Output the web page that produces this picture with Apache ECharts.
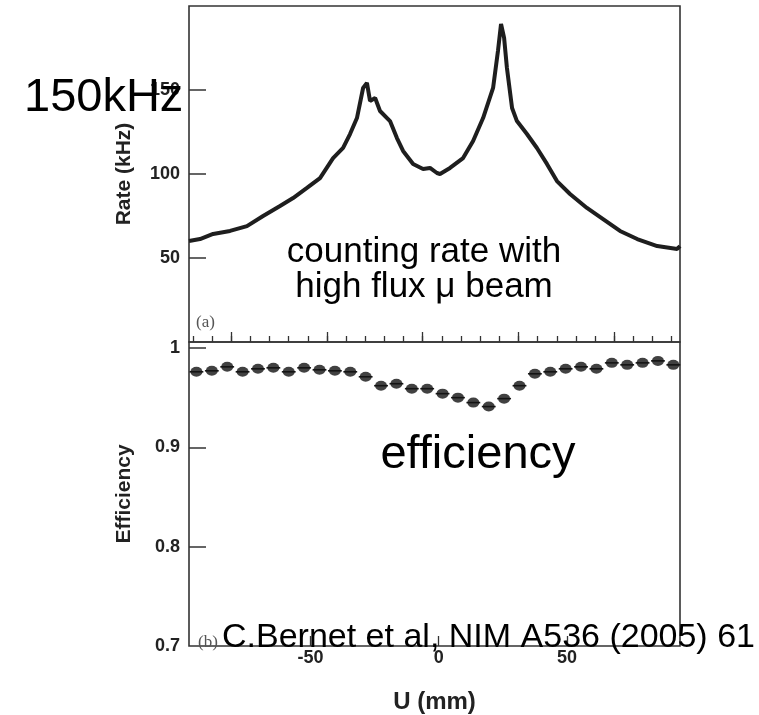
<!DOCTYPE html>
<html>
<head>
<meta charset="utf-8">
<script src="https://cdn.jsdelivr.net/npm/echarts@6/dist/echarts.min.js"></script>
<style>
html,body{margin:0;padding:0;background:#fff;}
#chart{width:759px;height:715px;}
</style>
</head>
<body>
<div id="chart"></div>
<script>
// ---- data (U in mm) ----
var rateU = [-97.4,-93.1,-88.0,-81.4,-74.8,-68.5,-61.9,-56.8,-51.4,-46.3,-41.2,-37.3,-34.6,-31.9,-29.5,-28.0,-26.8,-24.8,-22.9,-19.0,-16.3,-13.9,-10.0,-6.1,-3.4,-0.7,0.5,4.4,9.5,13.4,17.3,21.2,23.1,24.3,25.5,26.6,28.6,30.5,34.4,38.3,42.2,46.1,51.2,57.8,64.1,70.7,77.4,85.2,93.0,94.1];
var rateKHz = [60.1,61.3,64.3,66.1,69.0,75.0,81.0,85.7,91.7,97.6,109.5,115.5,123.8,133.3,151.2,154.2,143.5,145.2,137.5,131.5,121.4,113.7,106.0,103.0,103.6,100.6,100.0,103.6,109.5,119.6,133.3,151.2,173.2,189.3,181.0,163.1,139.3,131.5,123.8,115.5,106.0,95.8,88.1,79.8,73.2,66.1,61.3,57.1,55.4,57.1];

var effU = [-94.5,-88.5,-82.5,-76.5,-70.5,-64.5,-58.5,-52.5,-46.5,-40.5,-34.5,-28.5,-22.5,-16.5,-10.5,-4.5,1.5,7.5,13.5,19.5,25.5,31.5,37.5,43.5,49.5,55.5,61.5,67.5,73.5,79.5,85.5,91.5];
var effVal = [0.976,0.977,0.981,0.976,0.979,0.980,0.976,0.980,0.978,0.977,0.976,0.971,0.962,0.964,0.959,0.959,0.954,0.950,0.945,0.941,0.949,0.962,0.974,0.976,0.979,0.981,0.979,0.985,0.983,0.985,0.987,0.983];
var effHalfWidth = 2.7;

// ---- axes / ticks ----
var uMin = -97.4, uMax = 94.1;
var topMinorTicks = [-95.9,-88.43,-80.96,-73.49,-66.02,-58.55,-51.08,-43.61,-36.14,-28.67,-21.2,-13.73,-6.26,1.21,8.68,16.15,23.62,31.09,38.56,46.03,53.5,60.97,68.44,75.91,83.38,90.85];
var topMajorTicks = [-80.96,-43.61,-6.26,31.09,68.44];
var uTicks = [-50,0,50];
var rateTicks = [50,100,150];
var effTicks = [0.8,0.9,1];
var effLabels = [0.7,0.8,0.9,1];

var labelFont = {fontFamily:'Liberation Sans', fontWeight:'bold', fontSize:18, color:'#222'};
var nameFont = {fontFamily:'Liberation Sans', fontWeight:'bold', fontSize:21, color:'#222'};

var chart = echarts.init(document.getElementById('chart'), null, {renderer:'canvas'});
chart.setOption({
  animation:false,
  backgroundColor:'#fff',
  grid:[
    {left:189, top:6, width:491, height:336, show:true, borderColor:'#333', borderWidth:1.6, backgroundColor:'transparent'},
    {left:189, top:342, width:491, height:315, show:true, borderColor:'#333', borderWidth:1.6, backgroundColor:'transparent'}
  ],
  xAxis:[
    {gridIndex:0, type:'value', position:'bottom', min:uMin, max:uMax, axisLine:{show:false, onZero:false}, splitLine:{show:false}, axisLabel:{show:false},
     axisTick:{show:true, inside:true, length:6, customValues:topMinorTicks, lineStyle:{color:'#333', width:1.3}}},
    {gridIndex:0, type:'value', position:'bottom', min:uMin, max:uMax, axisLine:{show:false, onZero:false}, splitLine:{show:false}, axisLabel:{show:false},
     axisTick:{show:true, inside:true, length:10, customValues:topMajorTicks, lineStyle:{color:'#333', width:1.3}}},
    {gridIndex:1, type:'value', position:'bottom', min:uMin, max:uMax, axisLine:{show:false, onZero:false}, splitLine:{show:false},
     axisTick:{show:true, inside:true, length:10, customValues:uTicks, lineStyle:{color:'#333', width:1.3}},
     axisLabel:Object.assign({show:true, customValues:uTicks, margin:3}, labelFont),
     name:'U (mm)', nameLocation:'middle', nameGap:44,
     nameTextStyle:Object.assign({}, nameFont, {fontSize:24})}
  ],
  yAxis:[
    {gridIndex:0, type:'value', position:'left', min:0, max:200, axisLine:{show:false, onZero:false}, splitLine:{show:false},
     axisTick:{show:true, inside:true, length:17, customValues:rateTicks, lineStyle:{color:'#333', width:1.5}},
     axisLabel:Object.assign({show:true, customValues:rateTicks, margin:9}, labelFont),
     name:'Rate (kHz)', nameLocation:'middle', nameRotate:90, nameGap:54,
     nameTextStyle:nameFont},
    {gridIndex:1, type:'value', position:'left', min:0.7, max:1.006, axisLine:{show:false, onZero:false}, splitLine:{show:false},
     axisTick:{show:true, inside:true, length:17, customValues:effTicks, lineStyle:{color:'#333', width:1.5}},
     axisLabel:Object.assign({show:true, customValues:effLabels, margin:9, formatter:function(v){return String(+v.toFixed(2));}}, labelFont),
     name:'Efficiency', nameLocation:'middle', nameRotate:90, nameGap:54,
     nameTextStyle:nameFont}
  ],
  series:[
    {type:'line', xAxisIndex:0, yAxisIndex:0, showSymbol:false, symbol:'none',
     data:rateU.map(function(u,i){return [u, rateKHz[i]];}),
     lineStyle:{color:'#1e1e1e', width:4}, z:3},
    {type:'custom', xAxisIndex:2, yAxisIndex:1,
     data:effU.map(function(u,i){return [u, effVal[i]];}),
     renderItem:function(params, api){
       var u = api.value(0), e = api.value(1);
       var p1 = api.coord([u-effHalfWidth, e]);
       var p2 = api.coord([u+effHalfWidth, e]);
       return {type:'line', shape:{x1:p1[0], y1:p1[1], x2:p2[0], y2:p2[1]}, style:{stroke:'#1a1a1a', lineWidth:1.6}};
     }, z:3},
    {type:'scatter', xAxisIndex:2, yAxisIndex:1, symbol:'circle', symbolSize:[12,10],
     data:effU.map(function(u,i){return [u, effVal[i]];}),
     itemStyle:{color:'#111'}, z:4}
  ],
  graphic:[
    {type:'text', x:24, y:98, z:10, style:{text:'150kHz', font:'47px "Liberation Sans"', fill:'#000', textVerticalAlign:'middle'}},
    {type:'text', x:424, y:270, z:10, style:{text:'counting rate with\nhigh flux \u03bc beam', font:'35px "Liberation Sans"', fill:'#000', textAlign:'center', textVerticalAlign:'middle', lineHeight:35}},
    {type:'text', x:478, y:455, z:10, style:{text:'efficiency', font:'47px "Liberation Sans"', fill:'#000', textAlign:'center', textVerticalAlign:'middle'}},
    {type:'text', x:196, y:323, z:10, style:{text:'(a)', font:'17px "Liberation Serif"', fill:'#555', textVerticalAlign:'middle'}},
    {type:'text', x:198, y:643, z:10, style:{text:'(b)', font:'17px "Liberation Serif"', fill:'#555', textVerticalAlign:'middle'}},
    {type:'text', x:222, y:638, z:10, style:{text:'C.Bernet et al, NIM A536 (2005) 61', font:'34px "Liberation Sans"', fill:'#000', textVerticalAlign:'middle'}}
  ]
});
</script>
</body>
</html>
